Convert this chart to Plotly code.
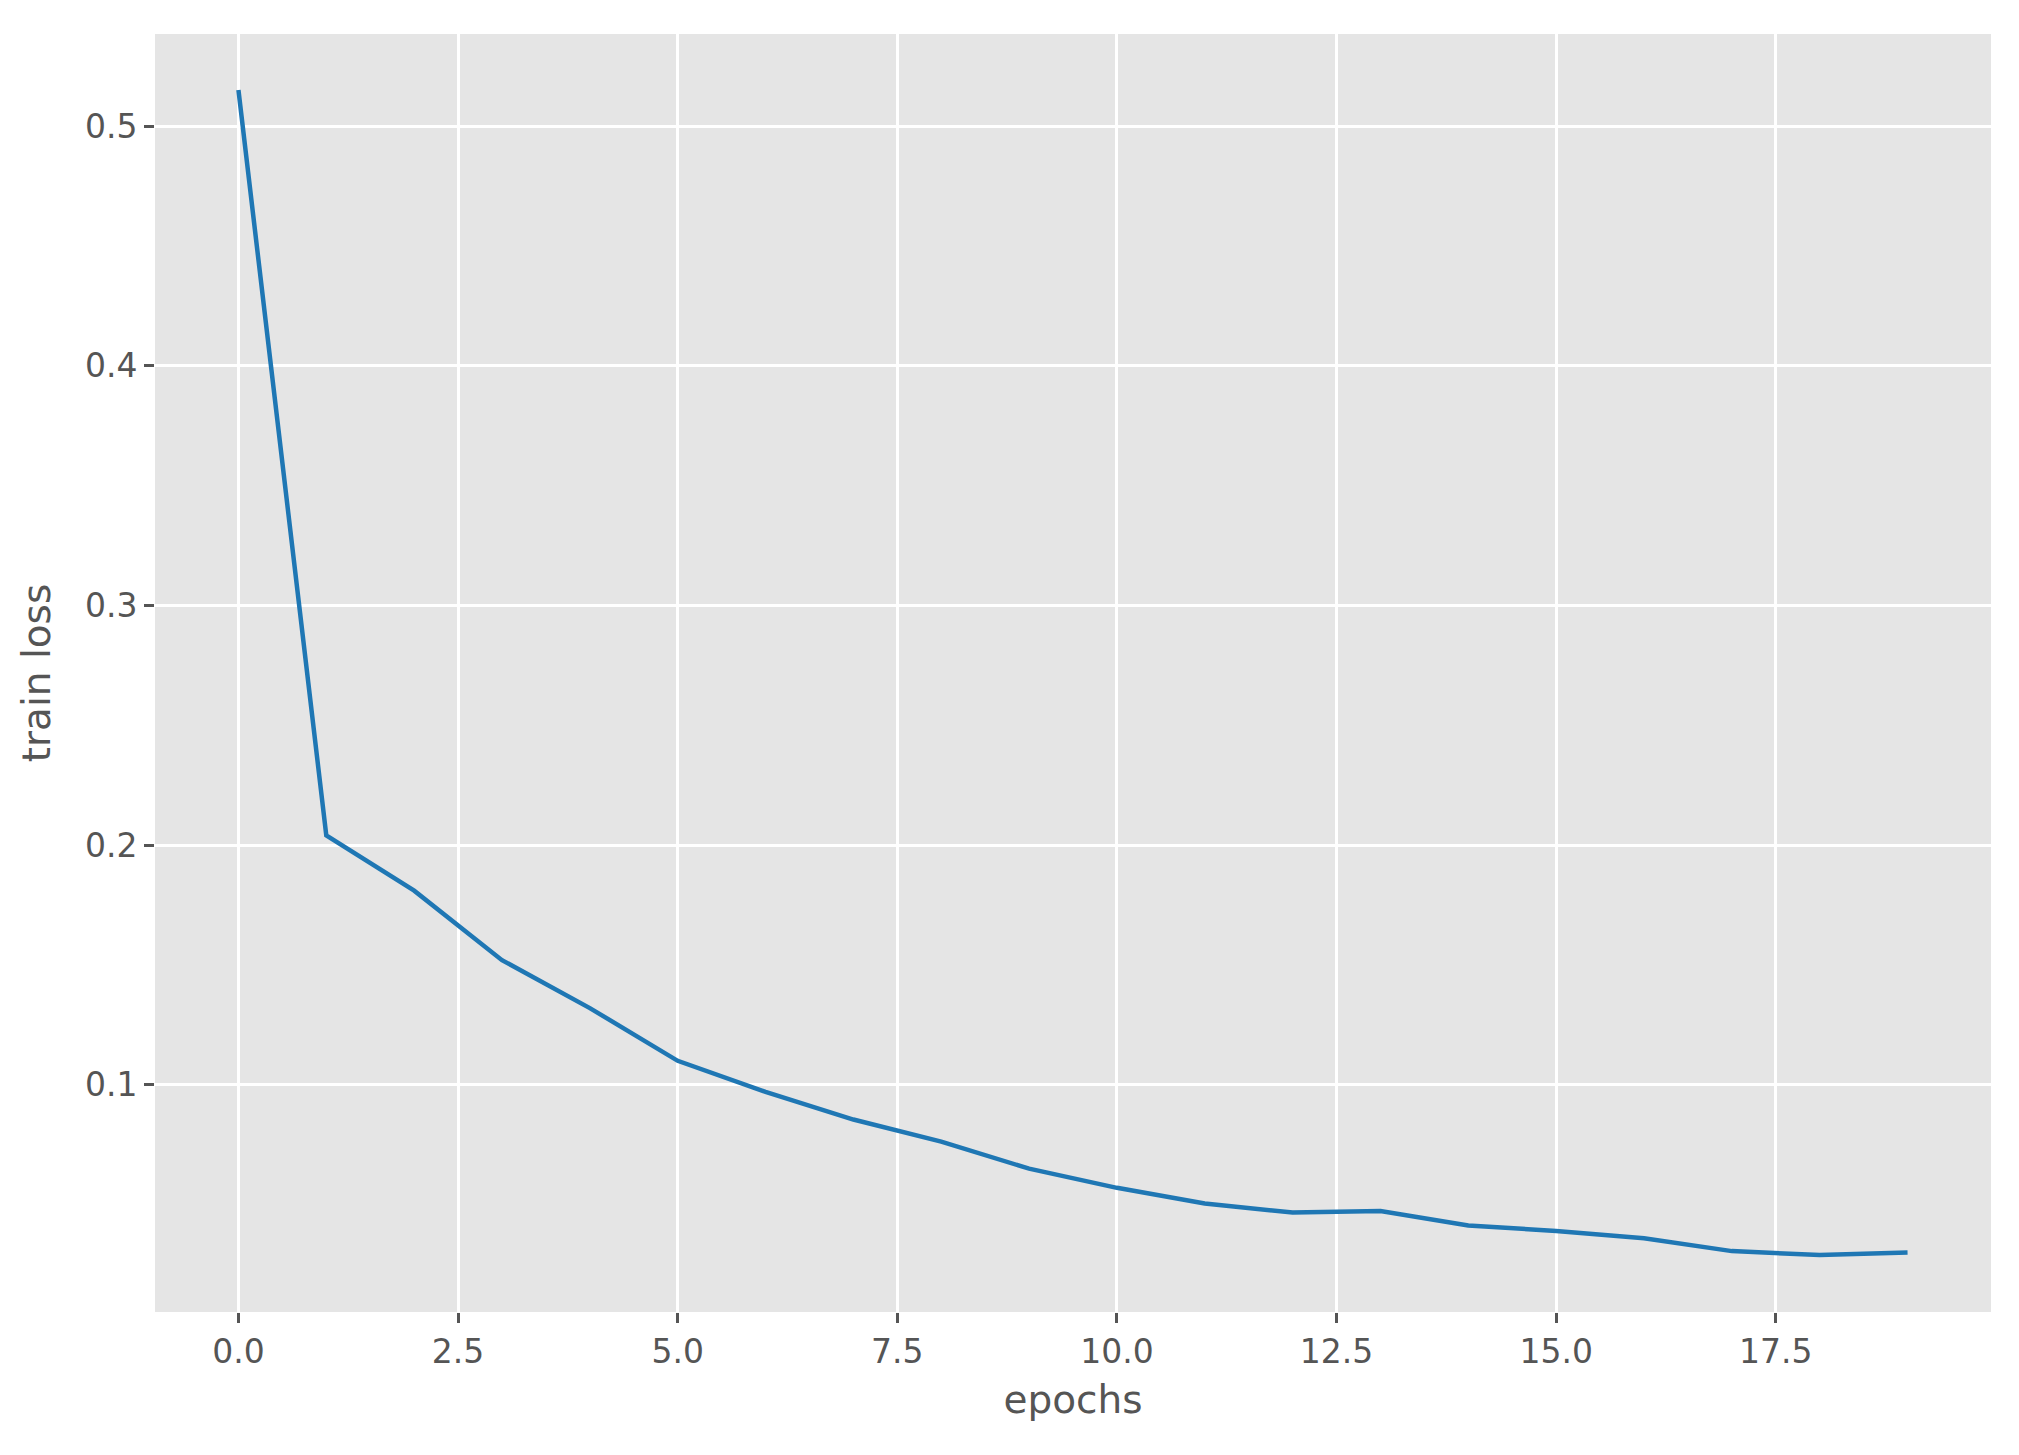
import plotly.graph_objects as go

epochs = list(range(20))
train_loss = [
    0.515, 0.204, 0.181, 0.152, 0.132, 0.110, 0.097, 0.0855, 0.0763, 0.065,
    0.057, 0.0505, 0.0467, 0.0473, 0.0413, 0.039, 0.036, 0.0306, 0.029, 0.030,
]

x_ticks = [0.0, 2.5, 5.0, 7.5, 10.0, 12.5, 15.0, 17.5]
y_ticks = [0.1, 0.2, 0.3, 0.4, 0.5]

grey = "#555555"
font = "DejaVu Sans"

fig = go.Figure(
    go.Scatter(
        x=epochs,
        y=train_loss,
        mode="lines",
        line=dict(color="#1f77b4", width=4.5),
    )
)

axis_common = dict(
    automargin=False,
    showgrid=True,
    gridcolor="white",
    gridwidth=3,
    zeroline=False,
    showline=False,
    ticks="outside",
    ticklen=10,
    tickwidth=3,
    tickcolor=grey,
    tickfont=dict(family=font, size=33, color=grey),
    title_font=dict(family=font, size=39, color=grey),
)

fig.update_xaxes(
    range=[-0.95, 19.95],
    tickvals=x_ticks,
    ticktext=[f"{v:.1f}" for v in x_ticks],
    title_text="epochs",
    title_standoff=16,
    **axis_common,
)
fig.update_yaxes(
    range=[0.0052, 0.5384],
    tickvals=y_ticks,
    ticktext=[f"{v:.1f}" for v in y_ticks],
    title_text="train loss",
    title_standoff=22,
    **axis_common,
)

# the page body adds an 8px offset, so margins are shifted to compensate
fig.update_layout(
    width=2019,
    height=1455,
    margin=dict(l=147, r=36, t=26, b=151),
    plot_bgcolor="#E5E5E5",
    paper_bgcolor="white",
    showlegend=False,
)

fig.write_html("out.html")
